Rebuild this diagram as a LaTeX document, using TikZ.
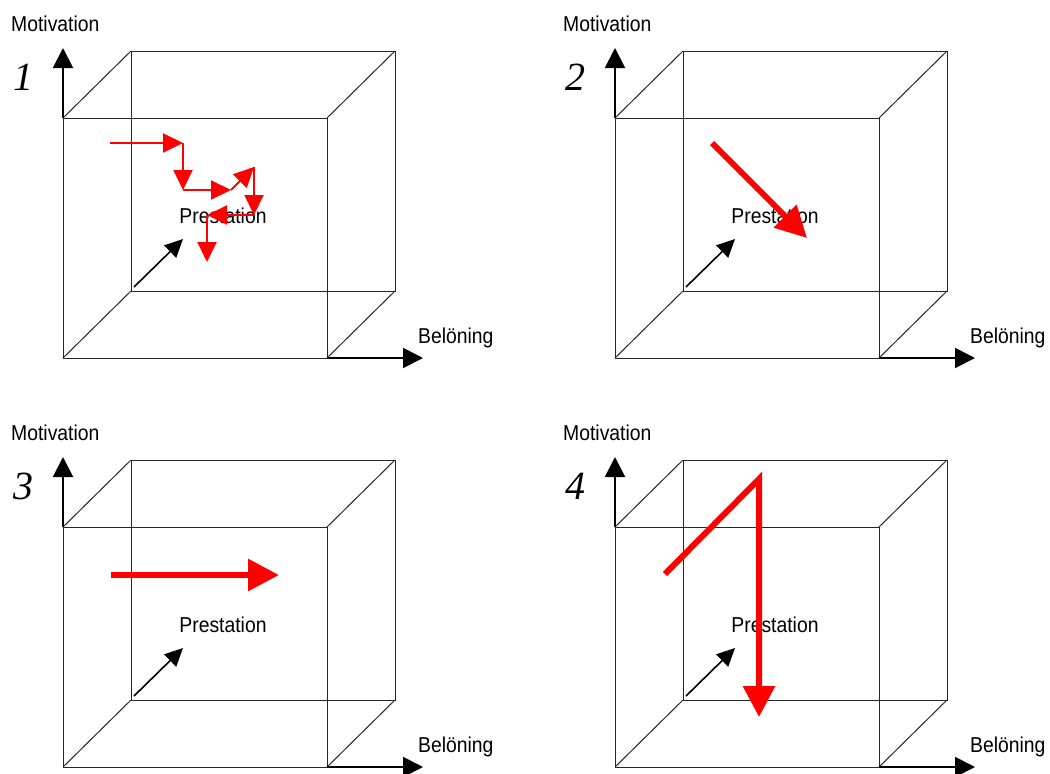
\documentclass[tikz,border=0pt]{standalone}
\usepackage{fontspec}
\setmainfont{Liberation Sans}[FakeStretch=0.9]
\newfontfamily\numfont{Liberation Serif}
\usepackage{tikz}
\usetikzlibrary{arrows.meta, positioning, calc}
\definecolor{pured}{RGB}{255,0,0}

\begin{document}
\begin{tikzpicture}[x=1pt, y=-1pt,
    cubeline/.style={line width=1pt, black!85},
    axisline/.style={line width=2pt, -{Triangle[length=20pt, width=20pt]}},
    depthline/.style={line width=1.6pt, -{Triangle[length=18pt, width=17pt]}},
    redthin/.style={line width=2pt, pured, -{Triangle[length=20pt, width=19pt]}},
    redthick/.style={line width=6pt, pured, miter limit=10, -{Triangle[length=31pt, width=31pt]}},
    lbl/.style={inner sep=0pt, font=\fontsize{21.5}{24}\selectfont},
    numlbl/.style={inner sep=0pt, font=\numfont\itshape\fontsize{40}{44}\selectfont}]
  \useasboundingbox (0,0) rectangle (1050,774);

  % Four cubes with their axes
  \foreach \dx/\dy/\n in {0/0/1, 552/0/2, 0/409/3, 552/409/4} {
    \begin{scope}[shift={(\dx,\dy)}]
      \coordinate (ftl\n) at (63,118);
      \coordinate (ftr\n) at (327,118);
      \coordinate (fbl\n) at (63,358);
      \coordinate (fbr\n) at (327,358);
      \coordinate (btl\n) at (131,51);
      \coordinate (btr\n) at (395,51);
      \coordinate (bbl\n) at (131,291);
      \coordinate (bbr\n) at (395,291);
      \coordinate (mtip\n) at (63,48);
      \coordinate (btip\n) at (423,358);
      \coordinate (pstart\n) at (134,287);
      \coordinate (ptip\n) at (183,239);

      \draw[cubeline] (ftl\n) -- (ftr\n) -- (fbr\n) -- (fbl\n) -- cycle;
      \draw[cubeline] (btl\n) -- (btr\n) -- (bbr\n) -- (bbl\n) -- cycle;
      \draw[cubeline] (ftl\n) -- (btl\n) (ftr\n) -- (btr\n)
                      (fbl\n) -- (bbl\n) (fbr\n) -- (bbr\n);

      \draw[axisline] (ftl\n) -- (mtip\n);
      \draw[axisline] (fbr\n) -- (btip\n);
      \draw[depthline] (pstart\n) -- (ptip\n);

      \node[lbl, anchor=base west] (mot\n) at (11,31) {Motivation};
      \node[lbl, anchor=base west] (bel\n) at (418,343) {Belöning};
      \node[lbl, anchor=base] (pres\n) at (223,223) {Prestation};
      \node[numlbl] (num\n) at (23,77) {\n};
    \end{scope}
  }

  % 1: zigzag path
  \draw[redthin] (110,143) -- (183,143);
  \draw[redthin] (183,143) -- (183,190);
  \draw[redthin] (183,190) -- (231,190);
  \draw[redthin] (231,190) -- (254,167);
  \draw[redthin] (254,167) -- (254,215);
  \draw[redthin] (254,215) -- (207,215);
  \draw[redthin] (207,215) -- (207,262);

  % 2: diagonal
  \draw[redthick] (712,143) -- (807,238);

  % 3: straight ahead
  \draw[redthick] (111,575) -- (279,575);

  % 4: up and then down
  \draw[redthick] (665,574) -- (759,479) -- (759,717);
\end{tikzpicture}
\end{document}
